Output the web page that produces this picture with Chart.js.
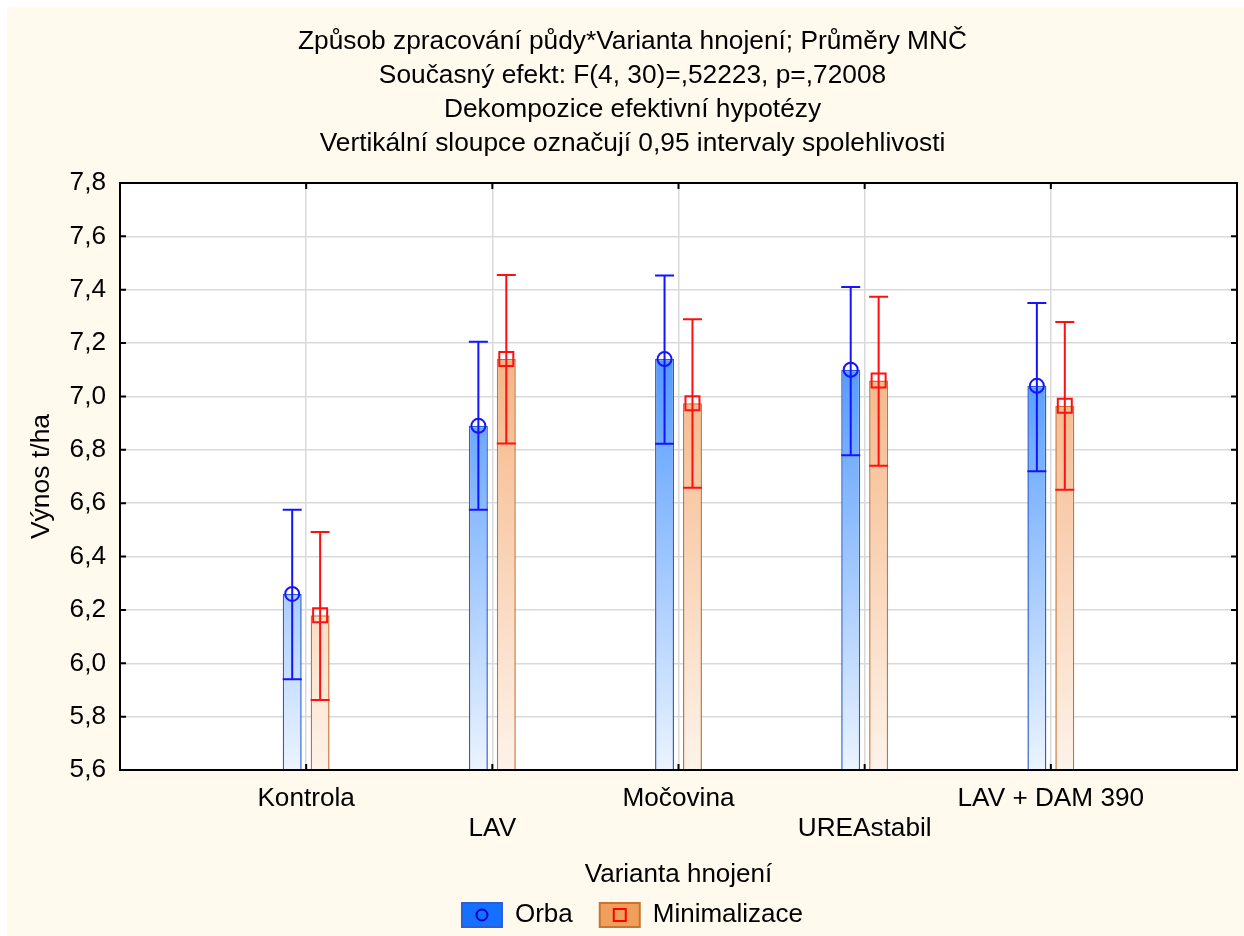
<!DOCTYPE html>
<html lang="cs">
<head>
    <meta charset="UTF-8">
    <title>Výnos t/ha</title>
    <script src="https://cdn.jsdelivr.net/npm/chart.js"></script>
    <style>
        body {
            margin: 0;
            background: #fff;
        }
        .panel {
            position: absolute;
            left: 7px;
            top: 7px;
            width: 1237px;
            height: 929px;
            background: #fff9ee;
        }
    </style>
</head>
<body>
    <div class="panel">
        <canvas id="yieldChart" width="1237" height="929"></canvas>
    </div>

    <script>
        // Categories (Varianta hnojení)
        const categories = ['Kontrola', 'LAV', 'Močovina', 'UREAstabil', 'LAV + DAM 390'];

        // Orba: means and 0,95 confidence limits
        const orbaMean = [6.26, 6.89, 7.14, 7.10, 7.04];
        const orbaLow = [5.94, 6.575, 6.823, 6.78, 6.72];
        const orbaHigh = [6.575, 7.205, 7.453, 7.41, 7.35];

        // Minimalizace: means and 0,95 confidence limits
        const minMean = [6.18, 7.14, 6.975, 7.06, 6.965];
        const minLow = [5.862, 6.824, 6.658, 6.74, 6.65];
        const minHigh = [6.492, 7.455, 7.289, 7.374, 7.279];

        // Axis ticks
        const yMin = 5.6, yMax = 7.8, yStep = 0.2;

        const titleLines = [
            'Způsob zpracování půdy*Varianta hnojení; Průměry MNČ',
            'Současný efekt: F(4, 30)=,52223, p=,72008',
            'Dekompozice efektivní hypotézy',
            'Vertikální sloupce označují 0,95 intervaly spolehlivosti'
        ];

        Chart.defaults.font.family = "'Liberation Sans', Arial, sans-serif";
        Chart.defaults.font.size = 26;
        Chart.defaults.color = '#000';

        // vertical gradient over the whole plot area
        function gradient(top, bottom) {
            return (context) => {
                const area = context.chart.chartArea;
                if (!area) return top;
                const g = context.chart.ctx.createLinearGradient(0, area.top, 0, area.bottom);
                g.addColorStop(0, top);
                g.addColorStop(1, bottom);
                return g;
            };
        }

        function drawMarker(c, kind, x, y, size, color) {
            c.strokeStyle = color;
            c.lineWidth = 2;
            c.beginPath();
            if (kind === 'circle') {
                c.arc(x, y, size, 0, Math.PI * 2);
            } else {
                c.rect(x - size, y - size, size * 2, size * 2);
            }
            c.stroke();
        }

        // white plot background
        const plotBackground = {
            id: 'plotBackground',
            beforeDraw(chart) {
                const {ctx, chartArea: a} = chart;
                ctx.save();
                ctx.fillStyle = '#fff';
                ctx.fillRect(a.left, a.top, a.width, a.height);
                ctx.restore();
            }
        };

        // confidence interval whiskers and mean markers
        const errorBars = {
            id: 'errorBars',
            afterDatasetsDraw(chart) {
                const c = chart.ctx;
                const y = chart.scales.y;
                chart.data.datasets.forEach((ds, d) => {
                    const meta = chart.getDatasetMeta(d);
                    meta.data.forEach((bar, i) => {
                        const top = y.getPixelForValue(ds.upper[i]);
                        const bottom = y.getPixelForValue(ds.lower[i]);
                        const half = bar.width / 2;
                        c.save();
                        c.strokeStyle = ds.whiskerColor;
                        c.lineWidth = 2;
                        c.beginPath();
                        c.moveTo(bar.x, top);
                        c.lineTo(bar.x, bottom);
                        c.moveTo(bar.x - half, top);
                        c.lineTo(bar.x + half, top);
                        c.moveTo(bar.x - half, bottom);
                        c.lineTo(bar.x + half, bottom);
                        c.stroke();
                        drawMarker(c, ds.marker, bar.x, bar.y, 7, ds.whiskerColor);
                        c.restore();
                    });
                });
            }
        };

        // black frame with inward tick marks, legend symbols
        const frame = {
            id: 'frame',
            afterDraw(chart) {
                const {ctx, chartArea: a, scales} = chart;
                ctx.save();
                ctx.strokeStyle = '#000';
                ctx.lineWidth = 2;
                ctx.strokeRect(a.left, a.top, a.width, a.height);
                ctx.beginPath();
                scales.y.ticks.forEach((t, i) => {
                    const py = scales.y.getPixelForTick(i);
                    ctx.moveTo(a.left, py);
                    ctx.lineTo(a.left + 6, py);
                    ctx.moveTo(a.right, py);
                    ctx.lineTo(a.right - 6, py);
                });
                scales.x.ticks.forEach((t, i) => {
                    const px = scales.x.getPixelForTick(i);
                    ctx.moveTo(px, a.bottom);
                    ctx.lineTo(px, a.bottom - 6);
                    ctx.moveTo(px, a.top);
                    ctx.lineTo(px, a.top + 6);
                });
                ctx.stroke();

                const legend = chart.legend;
                const boxW = legend.options.labels.boxWidth;
                legend.legendHitBoxes.forEach((hb, i) => {
                    const ds = chart.data.datasets[i];
                    drawMarker(ctx, ds.marker, hb.left + boxW / 2, hb.top + hb.height / 2,
                        ds.marker === 'circle' ? 5.5 : 6, ds.legendMarker);
                });
                ctx.restore();
            }
        };

        const ctx = document.getElementById('yieldChart').getContext('2d');

        new Chart(ctx, {
            type: 'bar',
            data: {
                datasets: [{
                    label: 'Orba',
                    data: orbaMean.map((v, i) => ({x: i + 1, y: v})),
                    upper: orbaHigh,
                    lower: orbaLow,
                    marker: 'circle',
                    whiskerColor: '#1414ff',
                    legendMarker: '#0000c8',
                    legendFill: '#1670ff',
                    backgroundColor: gradient('rgb(15,115,255)', 'rgb(236,244,255)'),
                    borderColor: '#2a5fd6',
                    borderWidth: 1.5,
                    base: yMin
                }, {
                    label: 'Minimalizace',
                    data: minMean.map((v, i) => ({x: i + 1, y: v})),
                    upper: minHigh,
                    lower: minLow,
                    marker: 'rect',
                    whiskerColor: '#ff1010',
                    legendMarker: '#ff0000',
                    legendFill: '#f0a05a',
                    backgroundColor: gradient('rgb(243,155,90)', 'rgb(253,243,234)'),
                    borderColor: '#c87533',
                    borderWidth: 1.5,
                    base: yMin
                }]
            },
            options: {
                responsive: false,
                animation: false,
                categoryPercentage: 0.3,
                barPercentage: 0.68,
                layout: {
                    padding: {left: 21, right: 7, top: 0, bottom: -2}
                },
                plugins: {
                    title: {
                        display: true,
                        text: titleLines,
                        font: {size: 26.3, weight: 'normal', lineHeight: 1.29},
                        color: '#000',
                        padding: {top: 18, bottom: 22.3}
                    },
                    legend: {
                        position: 'bottom',
                        labels: {
                            boxWidth: 40,
                            boxHeight: 24,
                            padding: 27,
                            font: {size: 26},
                            generateLabels: (chart) => chart.data.datasets.map((ds, i) => ({
                                text: ds.label,
                                fillStyle: ds.legendFill,
                                strokeStyle: ds.borderColor,
                                lineWidth: 2,
                                datasetIndex: i,
                                hidden: false
                            }))
                        }
                    },
                    tooltip: {enabled: false}
                },
                scales: {
                    x: {
                        type: 'linear',
                        min: 0,
                        max: categories.length + 1,
                        offset: false,
                        afterFit: (scale) => {
                            scale.height = 105;
                            scale.paddingLeft = 0;
                            scale.paddingRight = 0;
                        },
                        grid: {color: '#d9d9d9', lineWidth: 1.5, drawTicks: false, offset: false},
                        border: {display: false},
                        ticks: {
                            stepSize: 1,
                            autoSkip: false,
                            maxRotation: 0,
                            padding: 14,
                            font: {size: 26.2, lineHeight: 1.15},
                            callback: (v) => {
                                const i = v - 1;
                                if (i < 0 || i >= categories.length) return '';
                                return i % 2 ? ['', categories[i]] : categories[i];
                            }
                        },
                        title: {
                            display: true,
                            text: 'Varianta hnojení',
                            font: {size: 26, lineHeight: 1.15},
                            padding: {top: 0, bottom: -15}
                        }
                    },
                    y: {
                        min: yMin,
                        max: yMax,
                        afterFit: (scale) => { scale.width = 92; },
                        grid: {color: '#d9d9d9', lineWidth: 1.5, drawTicks: false},
                        border: {display: false},
                        ticks: {
                            stepSize: yStep,
                            padding: 14,
                            font: {size: 26.2},
                            callback: (v) => v.toFixed(1).replace('.', ',')
                        },
                        title: {
                            display: true,
                            text: 'Výnos t/ha',
                            font: {size: 26.5, lineHeight: 1},
                            padding: 0
                        }
                    }
                }
            },
            plugins: [plotBackground, errorBars, frame]
        });
    </script>
</body>
</html>
